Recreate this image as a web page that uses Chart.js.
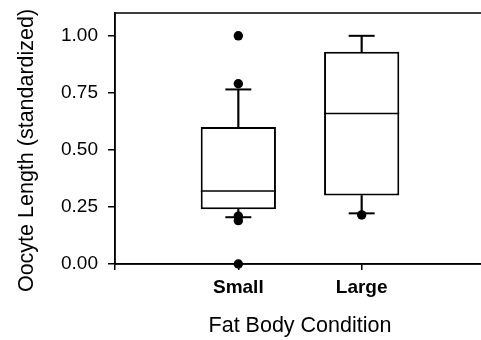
<!DOCTYPE html>
<html>
<head>
<meta charset="utf-8">
<script src="https://cdn.jsdelivr.net/npm/chart.js@4.4.1/dist/chart.umd.min.js"></script>
<style>
    html, body { margin: 0; padding: 0; background: #fff; overflow: hidden; }
    #wrap { width: 490px; height: 340px; position: relative; }
</style>
</head>
<body>
<div id="wrap"><canvas id="boxChart"></canvas></div>
<script>
// box plot values
const categories = ['Small', 'Large'];
const q1 = [0.24, 0.30];
const median = [0.32, 0.66];
const q3 = [0.60, 0.93];
const whiskerLow = [0.205, 0.222];
const whiskerHigh = [0.765, 1.00];
const outliers = [
    [1.00, 0.79, 0.21, 0.19, 0.00],
    [0.215]
];
const yTicks = [0, 0.25, 0.5, 0.75, 1.0];

// empty slots at both ends give the spacing of the original axis
const labels = ['', ...categories, ''];

function perCategory(fn) {
    return [null, ...categories.map((c, i) => fn(i)), null];
}

function pointsAt(values) {
    const pts = [];
    categories.forEach((c, i) => {
        values[i].forEach(v => pts.push({ x: c, y: v }));
    });
    return pts;
}

const fontFamily = '"Liberation Sans", Arial, Helvetica, sans-serif';
Chart.defaults.color = '#000';
Chart.defaults.font.family = fontFamily;

const framePlugin = {
    id: 'frame',
    beforeDatasetsDraw(chart) {
        const { ctx, chartArea } = chart;
        ctx.save();
        ctx.strokeStyle = '#000';
        ctx.lineWidth = 1.5;
        ctx.strokeRect(chartArea.left, chartArea.top, chartArea.right - chartArea.left, chartArea.bottom - chartArea.top);
        ctx.restore();
    }
};

new Chart(document.getElementById('boxChart'), {
    type: 'bar',
    data: {
        labels: labels,
        datasets: [
            {
                label: 'box',
                data: perCategory(i => [q1[i], q3[i]]),
                backgroundColor: '#fff',
                borderColor: '#000',
                borderWidth: 2,
                borderSkipped: false,
                grouped: false,
                categoryPercentage: 0.61,
                barPercentage: 1,
                order: 2
            },
            {
                label: 'upper whisker',
                data: perCategory(i => [q3[i], whiskerHigh[i]]),
                backgroundColor: '#000',
                borderWidth: 0,
                grouped: false,
                barThickness: 1.5,
                order: 3
            },
            {
                label: 'lower whisker',
                data: perCategory(i => [whiskerLow[i], q1[i]]),
                backgroundColor: '#000',
                borderWidth: 0,
                grouped: false,
                barThickness: 1.5,
                order: 3
            },
            {
                type: 'line',
                label: 'median',
                data: categories.map((c, i) => ({ x: c, y: median[i] })),
                showLine: false,
                pointStyle: 'line',
                pointRadius: 37.5,
                pointBorderWidth: 1.5,
                pointBorderColor: '#000',
                clip: false,
                order: 1
            },
            {
                type: 'line',
                label: 'caps',
                data: pointsAt(categories.map((c, i) => [whiskerLow[i], whiskerHigh[i]])),
                showLine: false,
                pointStyle: 'line',
                pointRadius: 13,
                pointBorderWidth: 2,
                pointBorderColor: '#000',
                clip: false,
                order: 1
            },
            {
                type: 'line',
                label: 'outliers',
                data: pointsAt(outliers),
                showLine: false,
                pointStyle: 'circle',
                pointRadius: 4.7,
                pointBorderWidth: 0,
                pointBackgroundColor: '#000',
                clip: false,
                order: 0
            }
        ]
    },
    options: {
        responsive: true,
        maintainAspectRatio: false,
        animation: false,
        events: [],
        layout: {
            autoPadding: false,
            padding: { top: 13, right: 5, bottom: 0, left: 0 }
        },
        plugins: {
            legend: { display: false },
            tooltip: { enabled: false }
        },
        scales: {
            x: {
                type: 'category',
                offset: false,
                grid: {
                    offset: false,
                    drawOnChartArea: false,
                    tickLength: 6,
                    color: '#000',
                    lineWidth: 1.5
                },
                border: { display: true, color: '#000', width: 1.5 },
                ticks: {
                    autoSkip: false,
                    maxRotation: 0,
                    padding: 6,
                    font: { size: 19, weight: 'bold' }
                },
                title: {
                    display: true,
                    text: 'Fat Body Condition',
                    font: { size: 21.5 },
                    padding: { top: 0, bottom: 1 }
                },
                afterFit(scale) {
                    scale.height = 76;
                    scale.paddingLeft = 0;
                    scale.paddingRight = 0;
                }
            },
            y: {
                min: 0,
                max: 1.1,
                grid: {
                    drawOnChartArea: false,
                    tickLength: 7,
                    color: '#000',
                    lineWidth: 1.5
                },
                border: { display: true, color: '#000', width: 1.5 },
                ticks: {
                    padding: 10,
                    font: { size: 19 },
                    callback: v => Number(v).toFixed(2)
                },
                afterBuildTicks(scale) {
                    scale.ticks = yTicks.map(v => ({ value: v }));
                },
                title: {
                    display: true,
                    // trailing spaces move the centred title down, as in the original
                    text: 'Oocyte Length (standardized)    ',
                    font: { size: 21.5 },
                    padding: { top: 14, bottom: 0 }
                },
                afterFit(scale) {
                    scale.width = 115;
                    scale.paddingTop = 0;
                    scale.paddingBottom = 0;
                }
            }
        }
    },
    plugins: [framePlugin]
});
</script>
</body>
</html>
